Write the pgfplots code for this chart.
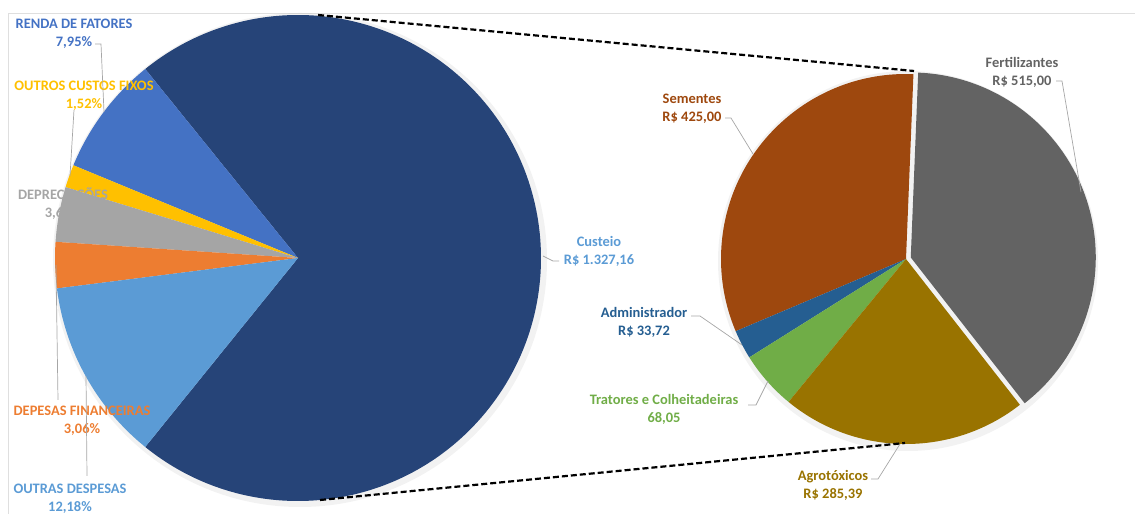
\documentclass[border=0pt]{standalone}
\usepackage{pgfplots}
\usepackage{pgfplotstable}
\pgfplotsset{compat=1.18}
\usepackage{fontspec}
\setmainfont{Carlito}

\definecolor{cCusteio}{HTML}{264478}
\definecolor{cRenda}{HTML}{4472C4}
\definecolor{cOutros}{HTML}{FFC000}
\definecolor{cDeprec}{HTML}{A5A5A5}
\definecolor{cFin}{HTML}{ED7D31}
\definecolor{cOutras}{HTML}{5B9BD5}
\definecolor{cFert}{HTML}{636363}
\definecolor{cSem}{HTML}{9E480E}
\definecolor{cAdm}{HTML}{255E91}
\definecolor{cTrat}{HTML}{70AD47}
\definecolor{cAgro}{HTML}{997300}

\pgfplotstableread{
name value col
Custeio 71.64 cCusteio
Renda 7.95 cRenda
OutrosCustos 1.52 cOutros
Depreciacoes 3.65 cDeprec
Financeiras 3.06 cFin
OutrasDespesas 12.18 cOutras
}\leftdata

\pgfplotstableread{
name value col
Fertilizantes 515.00 cFert
Sementes 425.00 cSem
Administrador 33.72 cAdm
Tratores 68.05 cTrat
Agrotoxicos 285.39 cAgro
}\rightdata

\tikzset{lbl/.style={font=\fontsize{14.5}{18}\selectfont\bfseries, align=center, inner sep=0pt},
         lead/.style={draw=gray!70, line width=0.7bp}}

\begin{document}
\begin{tikzpicture}
\begin{axis}[x=1bp, y=1bp, xmin=0, xmax=1135, ymin=0, ymax=514, hide axis, clip=false]
\path (axis cs:0,0) rectangle (axis cs:1135,514);
\draw[gray!25, line width=0.8bp] (axis cs:8,0) -- (axis cs:8,501) -- (axis cs:1135,501);

% soft shadows
\fill[black, opacity=0.05] (axis cs:300,254) circle[radius=247bp];
\fill[black, opacity=0.05] (axis cs:908,253) circle[radius=190bp];

% left pie
\pgfplotstablegetrowsof{\leftdata}\pgfmathtruncatemacro{\nL}{\pgfplotsretval-1}
\def\tot{0}
\pgfplotsforeachungrouped \i in {0,...,\nL}{%
  \pgfplotstablegetelem{\i}{value}\of\leftdata
  \pgfmathsetmacro{\tot}{\tot+\pgfplotsretval}}
\pgfplotstablegetelem{0}{value}\of\leftdata
\pgfmathsetmacro{\ang}{-180*(\pgfplotsretval/\tot)}
\pgfplotsforeachungrouped \i in {0,...,\nL}{%
  \pgfplotstablegetelem{\i}{value}\of\leftdata \let\val\pgfplotsretval
  \pgfplotstablegetelem{\i}{col}\of\leftdata \let\wcol\pgfplotsretval
  \pgfmathsetmacro{\angB}{\ang+360*(\val/\tot)}
  \edef\cmd{\noexpand\fill[\wcol] (axis cs:298,256) -- ++(\ang:243bp) arc[start angle=\ang, end angle=\angB, radius=243bp] -- cycle;}
  \cmd
  \let\ang\angB
}

% right pie (first slice starts at -52 degrees)
\pgfplotstablegetrowsof{\rightdata}\pgfmathtruncatemacro{\nR}{\pgfplotsretval-1}
\def\totR{0}
\pgfplotsforeachungrouped \i in {0,...,\nR}{%
  \pgfplotstablegetelem{\i}{value}\of\rightdata
  \pgfmathsetmacro{\totR}{\totR+\pgfplotsretval}}
\def\ang{-52}
\pgfplotsforeachungrouped \i in {0,...,\nR}{%
  \pgfplotstablegetelem{\i}{value}\of\rightdata \let\val\pgfplotsretval
  \pgfplotstablegetelem{\i}{col}\of\rightdata \let\wcol\pgfplotsretval
  \pgfmathsetmacro{\angB}{\ang+360*(\val/\totR)}
  \pgfmathsetmacro{\midA}{(\ang+\angB)/2}
  \pgfmathsetmacro{\ex}{(\i==0)*5}
  \pgfmathsetmacro{\cx}{906+\ex*cos(\midA)}
  \pgfmathsetmacro{\cy}{255+\ex*sin(\midA)}
  \edef\cmd{\noexpand\fill[\wcol] (axis cs:\cx,\cy) -- ++(\ang:185bp) arc[start angle=\ang, end angle=\angB, radius=185bp] -- cycle;}
  \cmd
  \let\ang\angB
}

% labels
\node[lbl, text=cRenda] at (axis cs:74,480) {RENDA DE FATORES\\7,95\%};
\node[lbl, text=cOutros] at (axis cs:84,418) {OUTROS CUSTOS FIXOS\\1,52\%};
\node[lbl, text=cDeprec] at (axis cs:63,310) {DEPRECIAÇÕES\\3,65\%};
\node[lbl, text=cFin] at (axis cs:82,93) {DEPESAS FINANCEIRAS\\3,06\%};
\node[lbl, text=cOutras] at (axis cs:70,15) {OUTRAS DESPESAS\\12,18\%};
\node[lbl, text=cOutras] at (axis cs:599,263) {Custeio\\R\$ 1.327,16};
\node[lbl, text=cSem] at (axis cs:692,405) {Sementes\\R\$ 425,00};
\node[lbl, text=cFert] at (axis cs:1022,442) {Fertilizantes\\R\$ 515,00};
\node[lbl, text=cAdm] at (axis cs:644,192) {Administrador\\R\$ 33,72};
\node[lbl, text=cTrat] at (axis cs:664,105) {Tratores\ e Colheitadeiras\\68,05};
\node[lbl, text=cAgro] at (axis cs:833,29) {Agrotóxicos\\R\$ 285,39};

% leader lines
\draw[lead] (axis cs:95,470) -- (axis cs:101,470) -- (axis cs:104,402);
\draw[lead] (axis cs:74,404) -- (axis cs:70,338);
\draw[lead] (axis cs:58,114) -- (axis cs:56,249);
\draw[lead] (axis cs:87,38) -- (axis cs:86,138);
\draw[lead] (axis cs:559,253) -- (axis cs:553,253) -- (axis cs:543,258);
\draw[lead] (axis cs:725,396) -- (axis cs:731,396) -- (axis cs:753,360);
\draw[lead] (axis cs:1056,433) -- (axis cs:1062,433) -- (axis cs:1081,322);
\draw[lead] (axis cs:691,198) -- (axis cs:700,198) -- (axis cs:742,169);
\draw[lead] (axis cs:748,109) -- (axis cs:756,109) -- (axis cs:768,133);
\draw[lead] (axis cs:871,35) -- (axis cs:878,35) -- (axis cs:900,70);

% connector lines
\draw[black, line width=2.2bp, dash pattern=on 6bp off 3bp] (axis cs:318,499) -- (axis cs:914,443);
\draw[black, line width=2.2bp, dash pattern=on 6bp off 3bp] (axis cs:320,14) -- (axis cs:905,71);
\end{axis}
\pgfresetboundingbox
\path (current axis.south west) rectangle (current axis.north east);
\end{tikzpicture}
\end{document}
